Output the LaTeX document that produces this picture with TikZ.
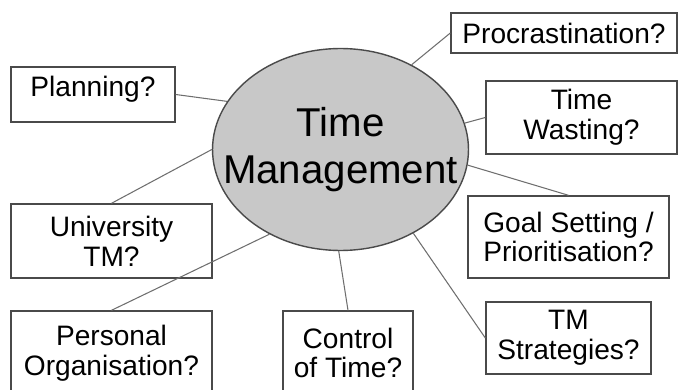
\documentclass[tikz,border=0pt]{standalone}
\usepackage{fontspec}
\setmainfont{Liberation Sans}
\usepackage{tikz}
\usetikzlibrary{shapes.geometric}
\definecolor{TMFill}{HTML}{C8C8C8}
\definecolor{TMEdge}{HTML}{4A4A4A}
\definecolor{TMLine}{HTML}{6E6E6E}
\tikzset{
  topic/.style={rectangle,draw=TMEdge,line width=0.8pt,align=center,inner sep=0pt,font=\fontsize{16}{17}\selectfont},
  hub/.style={ellipse,draw=TMEdge,line width=0.8pt,fill=TMFill,inner sep=0pt,minimum width=5.12cm,minimum height=4.04cm},
  hubtext/.style={align=center,inner sep=0pt,font=\fontsize{22.9}{26.7}\selectfont},
  spoke/.style={draw=TMLine,line width=0.6pt}
}
\begin{document}
\begin{tikzpicture}[x=0.02cm,y=0.02cm]
\path[use as bounding box] (0,0) rectangle (678,389);
\node[hub] (tm) at (340.5,239.5) {};
\node[hubtext] (tmtext) at (tm.center) {Time\\Management};
\node[topic,minimum width=3.28cm,minimum height=1.10cm,text depth=0.34cm] (plan) at (93,294.5) {Planning?};
\node[topic,minimum width=4.52cm,minimum height=0.80cm] (proc) at (564,356) {Procrastination?};
\node[topic,minimum width=3.82cm,minimum height=1.46cm] (waste) at (581.5,271.5) {Time\\Wasting?};
\node[topic,minimum width=4.02cm,minimum height=1.64cm] (goal) at (568.5,152) {Goal Setting /\\Prioritisation?};
\node[topic,minimum width=3.30cm,minimum height=1.44cm] (strat) at (568.5,51) {TM\\Strategies?};
\node[topic,minimum width=4.02cm,minimum height=1.48cm] (univ) at (111.5,148) {University\\TM?};
\node[topic,minimum width=4.02cm,minimum height=1.68cm] (pers) at (111.5,36) {Personal\\Organisation?};
\node[topic,minimum width=2.60cm,minimum height=1.68cm] (ctrl) at (348,36) {Control\\of Time?};
\draw[spoke] (plan.east) -- (tm.157.8);
\draw[spoke] (univ.north) -- (tm.180.7);
\draw[spoke] (pers.north) -- (tm.230);
\draw[spoke] (ctrl.north) -- (tm.269);
\draw[spoke] (strat.west) -- (tm.311);
\draw[spoke] (goal.north) -- (tm.353);
\draw[spoke] (waste.west) -- (tm.12);
\draw[spoke] (proc.west) -- (tm.50);
\end{tikzpicture}
\end{document}
